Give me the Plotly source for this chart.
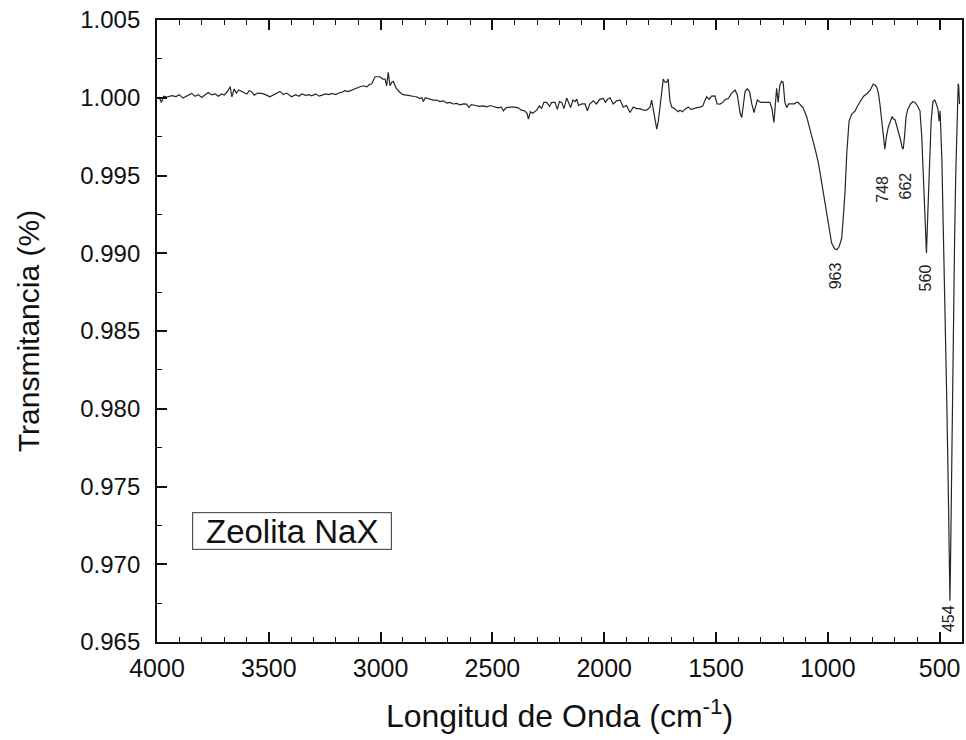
import plotly.graph_objects as go

wavenumber = [
    4000, 3990, 3980, 3970, 3955, 3934, 3915, 3900, 3884, 3870, 3860, 3845, 3830, 3815, 3800,
    3785, 3771, 3755, 3740, 3725, 3711, 3700, 3685, 3673, 3665, 3655, 3645, 3635, 3621, 3610,
    3598, 3588, 3577, 3565, 3550, 3533, 3515, 3495, 3475, 3450, 3435, 3420, 3398, 3380, 3365,
    3353, 3335, 3320, 3308, 3290, 3275, 3263, 3245, 3230, 3219, 3200, 3185, 3174, 3160, 3145,
    3129, 3115, 3100, 3092, 3077, 3062, 3050, 3040, 3025, 3010, 3003, 2990, 2980, 2973, 2966,
    2958, 2950, 2943, 2930, 2913, 2900, 2883, 2865, 2850, 2839, 2825, 2815, 2809, 2800, 2780,
    2765, 2749, 2735, 2720, 2704, 2690, 2675, 2660, 2645, 2630, 2615, 2605, 2595, 2575, 2560,
    2540, 2526, 2510, 2495, 2475, 2460, 2451, 2440, 2420, 2400, 2385, 2370, 2355, 2345, 2339,
    2330, 2320, 2302, 2290, 2280, 2270, 2257, 2245, 2235, 2220, 2210, 2200, 2190, 2180, 2168,
    2160, 2150, 2140, 2130, 2123, 2115, 2100, 2086, 2075, 2065, 2049, 2035, 2020, 2004, 1995,
    1985, 1974, 1960, 1945, 1929, 1915, 1900, 1885, 1870, 1855, 1840, 1825, 1810, 1795, 1788,
    1780, 1770, 1765, 1758, 1751, 1743, 1736, 1728, 1721, 1714, 1706, 1698, 1685, 1670, 1661,
    1650, 1640, 1624, 1612, 1602, 1590, 1572, 1560, 1550, 1542, 1530, 1520, 1505, 1495, 1482,
    1470, 1458, 1445, 1430, 1415, 1405, 1400, 1392, 1385, 1378, 1370, 1360, 1350, 1340, 1330,
    1324, 1315, 1300, 1289, 1275, 1259, 1250, 1241, 1235, 1229, 1222, 1215, 1207, 1200, 1192,
    1184, 1175, 1169, 1150, 1140, 1133, 1120, 1111, 1095, 1080, 1066, 1055, 1041, 1025, 1015,
    1005, 995, 983, 970, 960, 950, 938, 930, 923, 915, 905, 893, 878, 866, 856,
    840, 826, 810, 797, 788, 781, 774, 767, 758, 752, 745, 738, 730, 720, 712,
    707, 700, 692, 685, 675, 668, 663, 657, 650, 642, 630, 620, 610, 600, 595,
    588, 580, 572, 565, 559, 553, 546, 538, 530, 522, 515, 508, 502, 498, 490,
    484, 476, 468, 461, 457, 454, 451, 447, 443, 438, 433, 428, 424, 420, 417,
    415, 413, 411,
]

transmitancia = [
    1.00000, 1.00002, 0.99970, 1.00010, 1.00005, 1.00013, 1.00008, 1.00020, 0.99998, 1.00010, 1.00017, 1.00028, 1.00010, 1.00020, 1.00002,
    1.00020, 1.00034, 1.00018, 1.00024, 1.00010, 1.00024, 1.00017, 1.00040, 1.00071, 1.00006, 1.00056, 1.00030, 1.00050, 1.00041, 1.00030,
    1.00024, 1.00045, 1.00039, 1.00017, 1.00030, 1.00028, 1.00020, 1.00006, 1.00020, 1.00041, 1.00020, 1.00030, 1.00006, 1.00020, 1.00010,
    1.00024, 1.00015, 1.00020, 1.00013, 1.00025, 1.00010, 1.00017, 1.00025, 1.00020, 1.00028, 1.00020, 1.00032, 1.00034, 1.00045, 1.00040,
    1.00050, 1.00055, 1.00065, 1.00071, 1.00077, 1.00070, 1.00085, 1.00088, 1.00135, 1.00138, 1.00135, 1.00120, 1.00120, 1.00077, 1.00163,
    1.00077, 1.00100, 1.00105, 1.00060, 1.00034, 1.00020, 1.00017, 1.00010, 1.00008, 1.00006, 0.99995, 1.00000, 0.99976, 1.00000, 0.99990,
    0.99985, 0.99985, 0.99975, 0.99980, 0.99966, 0.99970, 0.99960, 0.99964, 0.99955, 0.99960, 0.99959, 0.99937, 0.99955, 0.99950, 0.99945,
    0.99948, 0.99942, 0.99950, 0.99945, 0.99935, 0.99940, 0.99916, 0.99935, 0.99940, 0.99940, 0.99935, 0.99920, 0.99915, 0.99900, 0.99863,
    0.99910, 0.99900, 0.99920, 0.99948, 0.99930, 0.99970, 0.99970, 0.99945, 0.99970, 0.99970, 0.99925, 0.99975, 0.99970, 0.99930, 0.99998,
    0.99970, 0.99937, 0.99985, 0.99975, 0.99991, 0.99950, 0.99960, 0.99960, 0.99916, 0.99960, 0.99980, 0.99960, 0.99990, 0.99995, 0.99970,
    0.99990, 1.00000, 0.99960, 0.99980, 0.99985, 0.99940, 0.99950, 0.99905, 0.99940, 0.99930, 0.99930, 0.99920, 0.99920, 0.99940, 0.99985,
    0.99920, 0.99830, 0.99798, 0.99850, 0.99940, 1.00050, 1.00120, 1.00100, 1.00099, 1.00120, 0.99980, 0.99940, 0.99930, 0.99910, 0.99920,
    0.99910, 0.99925, 0.99940, 0.99925, 0.99928, 0.99935, 0.99940, 0.99945, 0.99980, 1.00006, 0.99990, 1.00010, 1.00012, 0.99960, 0.99959,
    0.99970, 0.99990, 0.99995, 1.00030, 1.00050, 1.00020, 0.99960, 0.99900, 0.99873, 0.99950, 1.00040, 1.00058, 1.00040, 0.99960, 0.99905,
    0.99940, 0.99985, 0.99970, 0.99970, 0.99970, 0.99970, 0.99930, 0.99841, 0.99950, 1.00060, 0.99970, 1.00080, 1.00105, 1.00100, 0.99970,
    0.99937, 0.99960, 0.99959, 0.99960, 0.99970, 0.99970, 0.99950, 0.99937, 0.99880, 0.99800, 0.99722, 0.99660, 0.99572, 0.99430, 0.99350,
    0.99249, 0.99150, 0.99066, 0.99030, 0.99023, 0.99040, 0.99097, 0.99250, 0.99398, 0.99650, 0.99850, 0.99895, 0.99916, 0.99950, 0.99970,
    1.00010, 1.00024, 1.00050, 1.00088, 1.00080, 1.00067, 1.00030, 0.99959, 0.99850, 0.99750, 0.99669, 0.99750, 0.99809, 0.99850, 0.99880,
    0.99863, 0.99860, 0.99820, 0.99787, 0.99730, 0.99680, 0.99669, 0.99750, 0.99880, 0.99927, 0.99960, 0.99975, 0.99970, 0.99950, 0.99930,
    0.99916, 0.99750, 0.99450, 0.99150, 0.99002, 0.99250, 0.99550, 0.99850, 0.99975, 0.99985, 0.99960, 0.99930, 0.99850, 0.99916, 0.99600,
    0.99200, 0.98690, 0.98050, 0.97450, 0.97100, 0.96766, 0.97050, 0.97550, 0.98050, 0.98600, 0.99100, 0.99500, 0.99750, 0.99920, 1.00090,
    1.00080, 1.00030, 0.99960,
]

peak_labels = ["963", "748", "662", "560", "454"]
peak_label_x = [968, 759, 653, 565, 463]
peak_label_y = [0.98858, 0.99413, 0.99432, 0.98839, 0.96653]

x_tickvals = [4000, 3500, 3000, 2500, 2000, 1500, 1000, 500]
y_tickvals = [1.005, 1.000, 0.995, 0.990, 0.985, 0.980, 0.975, 0.970, 0.965]

FONT = "Liberation Sans, Arial, sans-serif"

fig = go.Figure()
fig.add_trace(go.Scatter(
    x=wavenumber, y=transmitancia, mode="lines",
    line=dict(color="#262626", width=1.2), showlegend=False,
))

for lab, lx, ly in zip(peak_labels, peak_label_x, peak_label_y):
    fig.add_annotation(x=lx, y=ly, xref="x", yref="y", text=lab, textangle=-90,
                       showarrow=False, font=dict(family=FONT, size=16, color="#222222"))

fig.add_annotation(x=0.1677, y=0.178, xref="paper", yref="paper", text="Zeolita NaX",
                   showarrow=False, font=dict(family=FONT, size=33, color="#111111"),
                   bordercolor="#555555", borderwidth=1.2, borderpad=1, bgcolor="white",
                   width=196, height=34, xanchor="center", yanchor="middle")

fig.update_layout(
    width=966, height=740,
    margin=dict(l=157, r=4, t=20, b=98, autoexpand=False),
    paper_bgcolor="white", plot_bgcolor="white",
    font=dict(family=FONT, color="#111111"),
)
fig.update_xaxes(
    range=[4000, 400], tickvals=x_tickvals, ticktext=[str(v) for v in x_tickvals],
    ticks="inside", ticklen=10, tickwidth=1.5, tickcolor="#111111",
    minor=dict(dtick=100, ticks="inside", ticklen=5, tickwidth=1.2, tickcolor="#111111"),
    showline=True, linecolor="#111111", linewidth=1.8, mirror="ticks",
    showgrid=False, zeroline=False, ticklabelstandoff=3,
    tickfont=dict(size=25),
    title=dict(text="Longitud de Onda (cm<sup>-1</sup>)", font=dict(size=32), standoff=24),
)
fig.update_yaxes(
    range=[0.965, 1.005], tickvals=y_tickvals, ticktext=[f"{v:.3f}" for v in y_tickvals],
    ticks="inside", ticklen=10, tickwidth=1.5, tickcolor="#111111",
    minor=dict(dtick=0.0025, ticks="inside", ticklen=5, tickwidth=1.2, tickcolor="#111111"),
    showline=True, linecolor="#111111", linewidth=1.8, mirror=True,
    showgrid=False, zeroline=False, ticklabelstandoff=10,
    tickfont=dict(size=24),
    title=dict(text="Transmitancia (%)", font=dict(size=30), standoff=32),
)

fig.write_html("out.html", config={"displayModeBar": False},
               post_script="document.body.style.margin='0';")
